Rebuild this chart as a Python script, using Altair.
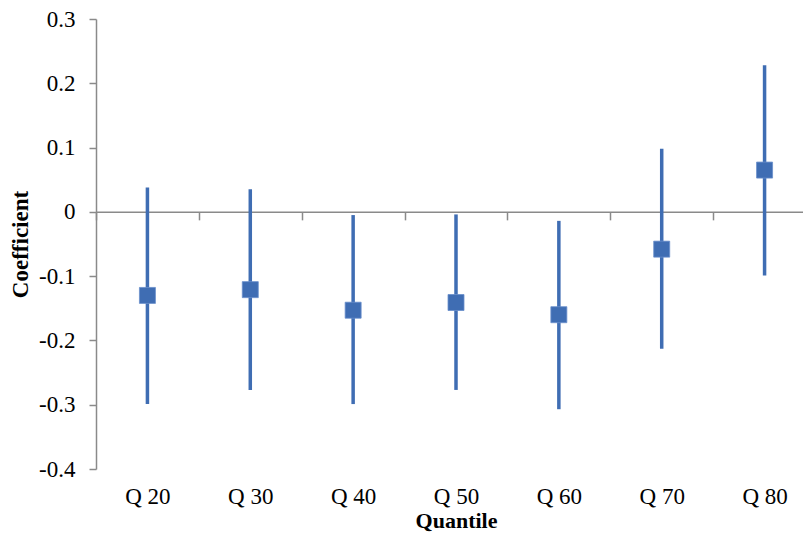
import altair as alt
import pandas as pd

quantiles = ["Q 20", "Q 30", "Q 40", "Q 50", "Q 60", "Q 70", "Q 80"]
coef = [-0.130, -0.121, -0.153, -0.141, -0.160, -0.058, 0.065]
upper = [0.038, 0.035, -0.005, -0.004, -0.014, 0.098, 0.228]
lower = [-0.299, -0.277, -0.299, -0.277, -0.307, -0.213, -0.099]
y_ticks = [-0.4, -0.3, -0.2, -0.1, 0.0, 0.1, 0.2, 0.3]

df = pd.DataFrame({"q": quantiles, "coef": coef, "upper": upper, "lower": lower})

FONT = "Liberation Serif"
BLUE = "#3F6DB3"
GRAY = "#8A8A8A"
H = 450
W = 707
FS = 23

yscale = alt.Scale(domain=[-0.4, 0.3], nice=False, zero=False)
# the plot runs past the right edge of the picture, as in the reference
xscale = alt.Scale(range=[0, 720], paddingInner=0, paddingOuter=0)

x_enc = alt.X(
    "q:N", sort=quantiles, scale=xscale,
    axis=alt.Axis(
        title="Quantile", titleFont=FONT, titleFontSize=22, titleFontWeight="bold",
        titleColor="black", titleX=360, titleY=316, titleBaseline="alphabetic",
        titleAlign="center",
        labelFont=FONT, labelFontSize=FS, labelColor="black", labelAngle=0,
        labelPadding=266, tickBand="extent", tickSize=8, tickColor=GRAY,
        tickWidth=1.5, domainColor=GRAY, domainWidth=1.5,
        offset=-H * 0.4 / 0.7, grid=False,
    ),
)

y_axis = alt.Axis(
    title="Coefficient", titleFont=FONT, titleFontSize=FS, titleFontWeight="bold",
    titleColor="black", titleAngle=-90, titleX=-76, titleY=H / 2,
    titleBaseline="middle", titleAlign="center",
    values=y_ticks,
    labelExpr="datum.value == 0 ? '0' : (datum.value < 0 ? '-' + format(-datum.value, '.1f') : format(datum.value, '.1f'))",
    labelFont=FONT, labelFontSize=FS, labelColor="black", labelPadding=14,
    tickSize=7, tickColor=GRAY, tickWidth=1.5, domainColor=GRAY, domainWidth=1.5,
    grid=False,
)

base = alt.Chart(df)

bars = base.mark_rule(color=BLUE, strokeWidth=3.5).encode(
    x=x_enc,
    y=alt.Y("lower:Q", scale=yscale, axis=y_axis),
    y2="upper:Q",
)

points = base.mark_square(color=BLUE, size=256, opacity=1, stroke="#6A8FCB", strokeWidth=0.8).encode(
    x=x_enc,
    y=alt.Y("coef:Q", scale=yscale, axis=y_axis),
)

chart = (
    alt.layer(bars, points)
    .properties(
        width=W, height=H,
        autosize=alt.AutoSizeParams(type="none"),
        padding={"left": 88, "top": 11, "right": 0, "bottom": 64},
    )
    .configure_view(stroke=None)
)

chart.save("out.html", embed_options={"renderer": "svg", "actions": False})
